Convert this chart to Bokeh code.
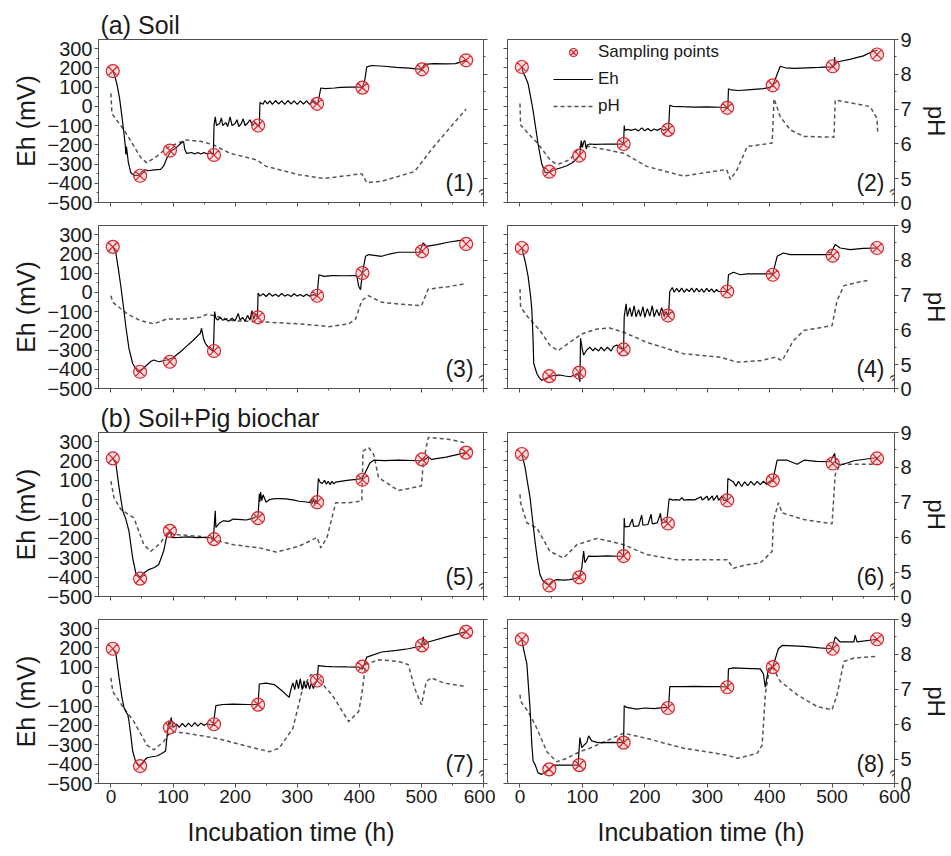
from bokeh.plotting import figure
from bokeh.models import (Range1d, LinearAxis, FixedTicker, CustomJSTickFormatter,
                          Label, Legend, LegendItem)
from bokeh.layouts import column, row
from bokeh.embed import file_html
from bokeh.resources import INLINE

# ---------------- data ----------------
samp_t = [3, 47, 95, 166, 237, 332, 405, 501, 572]
samp1 = [183, -361, -230, -253, -100, 13, 97, 192, 239]
samp2 = [204, -340, -256, -196, -123, -8, 109, 208, 269]
samp3 = [236, -413, -361, -305, -130, -18, 100, 213, 251]
samp4 = [230, -436, -417, -297, -121, 4, 91, 190, 230]
samp5 = [213, -408, -161, -204, -95, -13, 103, 208, 243]
samp6 = [236, -443, -401, -291, -123, -4, 100, 187, 213]
samp7 = [196, -410, -211, -194, -93, 32, 104, 213, 283]
samp8 = [245, -427, -405, -289, -110, -3, 101, 196, 245]

eh1 = [(3,183),(6,160),(10,110),(14,40),(18,-60),(21,-140),(23,-200),(24,-250),(25,-210),(28,-290),
       (32,-345),(38,-360),(45,-358),(50,-340),(55,-330),(60,-335),(70,-330),(80,-328),(85,-310),(90,-270),
       (96,-235),(105,-215),(112,-195),(117,-183),(119,-225),(122,-245),(130,-240),(135,-248),(140,-240),(145,-248),
       (150,-240),(155,-248),(160,-242),(165,-250),(166,-100),(168,-55),(170,-100),(175,-90),(178,-60),(180,-100),
       (185,-85),(188,-105),(192,-55),(195,-100),(200,-90),(203,-70),(206,-105),(210,-90),(213,-65),(216,-100),
       (220,-88),(224,-70),(228,-100),(232,-85),(236,-100),(239,-100),(240,20),(245,10),(248,30),(252,12),
       (256,28),(260,10),(265,30),(270,12),(275,28),(280,10),(285,30),(290,12),(295,28),(300,10),
       (305,28),(310,12),(315,28),(320,10),(325,25),(330,12),(333,13),(336,60),(338,95),(345,92),
       (360,95),(370,98),(385,100),(400,100),(405,97),(409,140),(412,205),(420,212),(440,208),(460,202),
       (480,198),(500,192),(505,218),(520,222),(540,220),(555,222),(565,232),(571,240)]
ph1 = [(0,7.45),(1.5,6.9),(3,6.83),(21,6.4),(37,5.93),(48,5.6),(58,5.45),(74,5.64),(90,5.88),(120,6.11),
       (144,6.07),(165,5.97),(191,5.73),(234,5.54),(250,5.35),(303,5.11),(343,5.0),(383,5.09),(404,5.14),
       (412,4.88),(436,4.92),(489,5.2),(516,5.83),(543,6.4),(572,7.0)]

eh2 = [(3,204),(5,178),(9,150),(13,117),(17,50),(21,-22),(25,-110),(29,-196),(32,-250),(35,-300),(40,-343),
       (46,-345),(52,-335),(59,-326),(67,-318),(75,-309),(83,-295),(91,-274),(96,-250),(98,-178),(100,-213),
       (102,-185),(104,-178),(106,-222),(108,-200),(112,-196),(120,-198),(140,-196),(160,-197),(166,-196),
       (167,-100),(168,-125),(172,-120),(178,-125),(185,-118),(190,-128),(195,-112),(200,-127),(205,-115),
       (210,-128),(215,-118),(220,-125),(225,-115),(230,-125),(235,-118),(238,-123),(240,5),(245,0),(260,-2),
       (280,-4),(300,-3),(320,-5),(333,-8),(334,91),(338,85),(350,82),(370,87),(390,92),(400,98),(405,109),
       (410,150),(417,208),(425,200),(440,197),(460,200),(480,202),(500,205),(503,210),(504,256),(505,215),
       (508,230),(530,245),(550,262),(565,285),(573,291)]
ph2 = [(0,7.16),(1,6.54),(13,6.3),(29,6.0),(48,5.54),(59,5.4),(80,5.54),(96,5.92),(112,5.92),(166,5.73),
       (203,5.35),(262,5.07),(294,5.16),(331,5.26),(337,4.97),(348,5.26),(364,5.92),(404,6.02),(407,7.3),
       (417,6.78),(433,6.4),(455,6.21),(503,6.19),(505,7.26),(535,7.16),(561,7.07),(572,6.73),(573,6.35)]

eh3 = [(3,236),(8,204),(12,120),(16,30),(20,-70),(24,-178),(29,-291),(35,-370),(43,-413),(50,-400),(58,-378),
       (64,-360),(69,-352),(77,-361),(90,-352),(100,-340),(112,-309),(122,-280),(133,-248),(140,-225),(144,-213),
       (146,-187),(149,-240),(152,-265),(158,-290),(165,-309),(167,-100),(169,-135),(172,-145),(176,-130),
       (180,-145),(185,-140),(190,-150),(195,-135),(200,-148),(205,-110),(208,-145),(212,-130),(216,-150),
       (220,-120),(224,-145),(227,-95),(230,-140),(233,-110),(236,-130),(237,-4),(240,-20),(245,-8),(250,-22),
       (255,-5),(260,-20),(265,-10),(270,-22),(275,-6),(280,-20),(285,-12),(290,-22),(295,-8),(300,-20),
       (305,-12),(310,-22),(315,-10),(320,-20),(326,-12),(332,-18),(335,91),(343,83),(356,87),(375,86),
       (396,87),(399,30),(402,13),(405,100),(410,187),(415,196),(436,187),(450,200),(463,208),(497,208),
       (503,257),(508,239),(525,248),(543,260),(560,268),(569,270)]
ph3 = [(0,6.98),(3,6.79),(27,6.45),(48,6.26),(69,6.17),(90,6.31),(117,6.31),(144,6.36),(154,6.44),(165,6.41),
       (197,6.26),(250,6.22),(303,6.17),(335,6.12),(351,6.09),(383,6.17),(394,6.31),(404,6.84),(415,6.98),
       (436,6.79),(463,6.74),(500,6.69),(511,7.17),(543,7.24),(572,7.33)]

eh4 = [(3,230),(5,204),(9,150),(13,83),(17,-20),(19,-91),(21,-250),(22,-370),(27,-422),(31,-445),(35,-457),
       (40,-450),(46,-440),(55,-432),(64,-430),(72,-435),(80,-439),(88,-430),(93,-420),(96,-465),(97,-239),
       (100,-300),(102,-326),(107,-300),(112,-285),(117,-305),(120,-290),(126,-305),(130,-285),(135,-305),
       (140,-285),(146,-305),(150,-282),(155,-274),(160,-290),(166,-297),(167,-126),(170,-60),(172,-125),
       (176,-80),(179,-126),(183,-70),(186,-128),(190,-90),(193,-125),(197,-75),(200,-130),(204,-85),(208,-124),
       (212,-70),(215,-128),(219,-90),(223,-122),(227,-80),(231,-126),(234,-100),(238,-121),(240,4),(244,25),
       (247,0),(251,20),(255,2),(259,22),(263,0),(267,18),(271,3),(275,22),(279,0),(283,20),(287,2),(291,18),
       (295,0),(299,20),(303,3),(307,18),(311,0),(315,15),(318,4),(332,4),(334,91),(342,104),(353,91),(364,96),
       (385,96),(405,96),(412,187),(422,204),(433,196),(460,196),(497,196),(505,248),(513,230),(529,222),
       (550,228),(573,230)]
ph4 = [(0,7.17),(1,6.65),(13,6.36),(32,5.98),(48,5.55),(61,5.40),(80,5.64),(99,5.88),(123,6.02),(144,6.05),
       (166,5.93),(203,5.64),(262,5.31),(321,5.21),(348,5.07),(385,5.11),(409,5.21),(420,5.11),(438,5.69),
       (455,5.98),(500,6.12),(508,6.84),(519,7.27),(540,7.36),(561,7.43)]

eh5 = [(3,213),(8,187),(13,65),(19,-57),(24,-100),(29,-161),(35,-300),(40,-378),(47,-400),(53,-378),(61,-361),
       (70,-350),(77,-335),(85,-265),(90,-187),(96,-165),(98,-196),(110,-195),(125,-192),(140,-196),(155,-194),
       (165,-200),(168,-57),(169,-143),(175,-120),(181,-109),(190,-112),(197,-100),(210,-103),(218,-105),
       (229,-95),(237,-83),(239,30),(240,-10),(241,39),(243,-5),(245,25),(250,-13),(255,0),(261,4),(270,6),
       (282,4),(295,-2),(303,-8),(315,-12),(320,-15),(322,0),(324,-20),(326,5),(328,-20),(330,-5),(332,-13),
       (334,109),(337,90),(340,83),(344,100),(347,80),(350,95),(353,78),(356,95),(359,82),(362,91),(380,100),
       (395,105),(404,109),(410,143),(417,190),(423,204),(440,202),(463,204),(497,201),(505,205),(511,222),
       (516,208),(540,220),(571,243)]
ph5 = [(0,7.61),(5,7.13),(16,6.8),(37,6.56),(53,5.79),(64,5.6),(80,5.84),(90,6.13),(106,6.08),(144,6.03),
       (165,5.94),(197,5.79),(239,5.70),(266,5.58),(303,5.75),(332,6.0),(338,5.70),(348,6.0),(362,6.99),
       (383,6.99),(404,7.04),(406,8.47),(415,8.57),(423,8.38),(431,7.71),(463,7.34),(500,7.47),(503,8.14),
       (511,8.86),(543,8.81),(569,8.71)]

eh6 = [(3,236),(8,170),(12,90),(16,13),(20,-100),(24,-213),(28,-310),(32,-387),(36,-415),(40,-430),(46,-440),
       (52,-420),(59,-413),(70,-415),(80,-413),(91,-404),(96,-390),(99,-352),(102,-265),(104,-326),(110,-291),
       (120,-293),(140,-290),(155,-292),(166,-291),(167,-95),(168,-140),(175,-138),(180,-100),(182,-138),
       (190,-135),(195,-80),(197,-132),(205,-128),(210,-75),(212,-125),(220,-120),(225,-70),(227,-122),
       (232,-115),(235,-117),(239,4),(245,-2),(250,0),(255,-3),(260,10),(262,-2),(270,0),(280,-1),(290,15),
       (292,-2),(300,18),(302,-3),(308,20),(310,-3),(316,22),(318,-3),(324,20),(326,-4),(332,-4),(333,109),
       (342,91),(346,70),(350,95),(355,68),(360,92),(365,72),(370,95),(375,75),(380,95),(385,78),(390,95),
       (395,80),(400,95),(405,100),(412,204),(428,204),(444,183),(455,204),(475,198),(497,196),(504,239),
       (506,190),(513,178),(535,201),(555,210),(573,218)]
ph6 = [(0,7.23),(1,6.99),(11,6.42),(27,6.27),(48,5.60),(70,5.41),(91,5.79),(123,5.97),(144,5.89),(166,5.79),
       (203,5.51),(251,5.36),(332,5.36),(342,5.12),(364,5.22),(385,5.27),(404,5.6),(406,6.46),(414,6.99),
       (420,6.70),(455,6.51),(500,6.39),(505,7.80),(513,8.09),(573,8.09)]

eh7 = [(3,196),(8,170),(13,49),(18,-60),(21,-107),(25,-135),(27,-142),(29,-176),(32,-250),(35,-332),(40,-390),
       (45,-410),(50,-395),(58,-367),(66,-362),(74,-358),(82,-345),(88,-332),(93,-176),(95,-200),(97,-159),
       (100,-211),(106,-194),(110,-210),(115,-190),(120,-208),(125,-188),(130,-206),(135,-186),(140,-204),
       (145,-188),(150,-200),(155,-190),(160,-198),(165,-194),(169,-98),(180,-92),(197,-90),(220,-92),(237,-93),
       (239,14),(250,18),(263,11),(275,-20),(287,-55),(290,-12),(293,20),(296,-15),(299,35),(302,-10),(305,40),
       (308,-15),(311,30),(314,-8),(317,25),(320,-12),(323,20),(326,-10),(329,15),(332,32),(334,109),(345,105),
       (356,104),(380,102),(399,101),(405,90),(412,153),(436,179),(460,188),(479,196),(500,210),(503,257),
       (505,215),(511,231),(543,260),(571,283)]
ph7 = [(0,7.33),(3,6.94),(21,6.46),(37,6.08),(58,5.41),(69,5.27),(85,5.51),(96,5.79),(122,5.75),(170,5.60),
       (223,5.36),(255,5.22),(271,5.32),(293,5.89),(309,7.04),(322,7.42),(332,7.42),(346,7.04),(356,6.85),
       (383,6.08),(399,6.37),(404,6.85),(410,7.71),(431,7.85),(463,7.80),(479,7.71),(489,7.04),(500,6.56),
       (508,7.23),(516,7.33),(537,7.18),(569,7.09)]

eh8 = [(3,245),(5,205),(11,118),(16,-107),(19,-300),(21,-384),(24,-401),(29,-445),(35,-453),(40,-440),(46,-427),
       (53,-405),(65,-405),(80,-405),(93,-405),(96,-263),(99,-315),(103,-300),(107,-289),(110,-254),(115,-280),
       (125,-289),(145,-288),(166,-289),(167,-98),(171,-107),(187,-116),(200,-110),(215,-113),(228,-108),
       (235,-107),(238,-110),(240,0),(260,0),(280,2),(300,0),(320,1),(333,-3),(334,92),(342,97),(360,95),
       (385,92),(390,66),(393,-3),(398,92),(405,101),(414,196),(420,213),(455,208),(480,200),(500,196),
       (505,257),(513,231),(535,231),(537,266),(540,231),(573,245)]
ph8 = [(0,6.85),(1,6.66),(13,6.37),(27,5.89),(43,5.22),(59,4.93),(75,5.03),(96,5.22),(112,5.32),(166,5.75),
       (203,5.60),(262,5.32),(332,5.12),(348,5.03),(380,5.17),(388,5.41),(393,6.85),(398,7.42),(404,7.66),
       (417,7.23),(444,6.85),(476,6.51),(500,6.42),(508,6.85),(519,7.80),(535,7.90),(573,7.95)]

panel_names = ["(1)", "(2)", "(3)", "(4)", "(5)", "(6)", "(7)", "(8)"]
group_titles = {0: "(a) Soil", 4: "(b) Soil+Pig biochar"}
eh_tick_vals = [-500, -400, -300, -200, -100, 0, 100, 200, 300]
t_tick_vals = [0, 100, 200, 300, 400, 500, 600]
ph_tick_vals = [5, 6, 7, 8, 9]

# ---------------- styling ----------------
FONT = "Liberation Sans"
AX = "#505050"
TXT = "#1a1a1a"
PH_BOTTOM = 4.31   # where the broken pH axis shows "0"


def style_axis(ax, show, size):
    ax.axis_line_color = AX
    ax.major_tick_line_color = AX
    ax.minor_tick_line_color = AX
    ax.major_tick_out = 4
    ax.major_tick_in = 0
    ax.minor_tick_out = 2
    ax.minor_tick_in = 0
    ax.major_label_standoff = 2
    ax.major_label_text_font = FONT
    if show:
        ax.major_label_text_color = TXT
        ax.major_label_text_font_size = size
    else:
        # tick marks only: labels are not drawn and take (almost) no room
        ax.major_label_text_color = None
        ax.major_label_text_font_size = "1px"
    ax.axis_label_text_font = FONT
    ax.axis_label_text_font_style = "normal"
    ax.axis_label_text_color = TXT


data = [(eh1, ph1, samp1), (eh2, ph2, samp2), (eh3, ph3, samp3), (eh4, ph4, samp4),
        (eh5, ph5, samp5), (eh6, ph6, samp6), (eh7, ph7, samp7), (eh8, ph8, samp8)]

figs = []
for i, (eh, ph, samp) in enumerate(data):
    r, c = divmod(i, 2)
    left = c == 0
    bottom = r == 3
    fh = 163 if r < 2 else 164
    p = figure(frame_width=385 if left else 387, frame_height=fh,
               x_range=Range1d(-20, 600), y_range=Range1d(-500, 347),
               x_axis_type=None, y_axis_type=None,
               output_backend="svg", toolbar_location=None,
               min_border_left=98 if left else 12, min_border_right=12 if left else 57,
               min_border_top=[39, 11, 32, 11][r], min_border_bottom=74 if bottom else 12)
    p.extra_y_ranges = {"ph": Range1d(PH_BOTTOM, 9)}
    p.outline_line_color = AX
    p.background_fill_color = "white"
    p.border_fill_color = "white"

    # axes
    xa = LinearAxis(ticker=FixedTicker(ticks=t_tick_vals,
                                       minor_ticks=[v + 50 for v in t_tick_vals[:-1]]))
    style_axis(xa, bottom, "19px")
    if bottom:
        xa.axis_label = "Incubation time (h)"
        xa.axis_label_text_font_size = "25px"
        xa.axis_label_standoff = 12
    p.add_layout(xa, "below")

    ya = LinearAxis(ticker=FixedTicker(ticks=eh_tick_vals,
                                       minor_ticks=[v + 50 for v in eh_tick_vals[:-1]]))
    style_axis(ya, left, "20px")
    if left:
        ya.axis_label = "Eh (mV)"
        ya.axis_label_text_font_size = "25px"
        ya.axis_label_standoff = 4
    p.add_layout(ya, "left")

    ra = LinearAxis(y_range_name="ph",
                    ticker=FixedTicker(ticks=[PH_BOTTOM] + ph_tick_vals,
                                       minor_ticks=[v + 0.5 for v in ph_tick_vals[:-1]]),
                    formatter=CustomJSTickFormatter(code="return tick < 4.9 ? '0' : tick.toFixed(0);"))
    style_axis(ra, not left, "20px")
    if not left:
        ra.axis_label = "pH"
        ra.axis_label_text_font_size = "24px"
        ra.axis_label_standoff = 8
    p.add_layout(ra, "right")

    # data
    lp = p.line([a for a, b in ph], [b for a, b in ph], y_range_name="ph",
                line_color="#555555", line_width=1.5, line_dash="4 3")
    le = p.line([a for a, b in eh], [b for a, b in eh], line_color="black", line_width=1.2)
    sc = p.scatter(samp_t, samp, marker="circle_x", size=13, line_color="#d8262e",
                   fill_color="#f2a0a0", fill_alpha=0.35, line_width=1.2)

    # panel number
    p.add_layout(Label(x=584, y=-468, text=panel_names[i], text_align="right",
                       text_baseline="bottom", text_font=FONT, text_font_size="23px",
                       text_color=TXT))
    # axis break mark on the right axis
    p.add_layout(Label(x=600, y=4.63, y_range_name="ph", text="≈", text_align="center",
                       text_baseline="middle", text_font=FONT, text_font_size="17px",
                       text_color="#333333", angle=0.6))

    if i in group_titles:
        p.title.text = group_titles[i]
        p.title.text_font = FONT
        p.title.text_font_size = "25px"
        p.title.text_font_style = "normal"
        p.title.text_color = TXT
        p.title.align = "left"
        p.title.offset = 2
        p.title.standoff = 2

    if i == 1:
        legend = Legend(items=[LegendItem(label="Sampling points", renderers=[sc]),
                               LegendItem(label="Eh", renderers=[le]),
                               LegendItem(label="pH", renderers=[lp])],
                        location=(46, 86), glyph_width=40, glyph_height=20, label_height=20,
                        label_standoff=5, spacing=7, padding=0, margin=0,
                        border_line_color=None, background_fill_alpha=0,
                        label_text_font=FONT, label_text_font_size="17px", label_text_color=TXT)
        p.add_layout(legend)
    figs.append(p)

layout = column(row(figs[0], figs[1]), row(figs[2], figs[3]),
                row(figs[4], figs[5]), row(figs[6], figs[7]))

open("out.html", "w").write(file_html(layout, INLINE))
